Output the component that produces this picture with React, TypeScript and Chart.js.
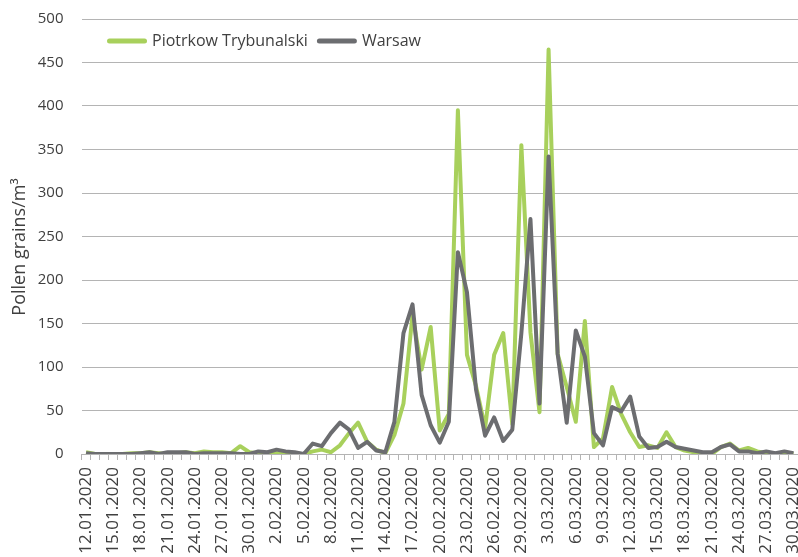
import React, { useEffect, useRef } from 'react';
import { Chart, registerables } from 'chart.js';

Chart.register(...registerables);

const dates = [
  '12.01.2020', '13.01.2020', '14.01.2020', '15.01.2020', '16.01.2020', '17.01.2020', '18.01.2020', '19.01.2020',
  '20.01.2020', '21.01.2020', '22.01.2020', '23.01.2020', '24.01.2020', '25.01.2020', '26.01.2020', '27.01.2020',
  '28.01.2020', '29.01.2020', '30.01.2020', '31.01.2020', '1.02.2020', '2.02.2020', '3.02.2020', '4.02.2020',
  '5.02.2020', '6.02.2020', '7.02.2020', '8.02.2020', '9.02.2020', '10.02.2020', '11.02.2020', '12.02.2020',
  '13.02.2020', '14.02.2020', '15.02.2020', '16.02.2020', '17.02.2020', '18.02.2020', '19.02.2020', '20.02.2020',
  '21.02.2020', '22.02.2020', '23.02.2020', '24.02.2020', '25.02.2020', '26.02.2020', '27.02.2020', '28.02.2020',
  '29.02.2020', '1.03.2020', '2.03.2020', '3.03.2020', '4.03.2020', '5.03.2020', '6.03.2020', '7.03.2020',
  '8.03.2020', '9.03.2020', '10.03.2020', '11.03.2020', '12.03.2020', '13.03.2020', '14.03.2020', '15.03.2020',
  '16.03.2020', '17.03.2020', '18.03.2020', '19.03.2020', '20.03.2020', '21.03.2020', '22.03.2020', '23.03.2020',
  '24.03.2020', '25.03.2020', '26.03.2020', '27.03.2020', '28.03.2020', '29.03.2020', '30.03.2020',
];

const piotrkow = [
  2, 0, 0, 0, 0, 1, 1, 2, 1, 0,
  1, 2, 1, 3, 2, 2, 1, 9, 2, 1,
  0, 1, 0, 0, 0, 3, 5, 2, 10, 24,
  36, 14, 5, 1, 22, 58, 160, 97, 146, 27,
  46, 395, 114, 78, 30, 114, 139, 34, 355, 140,
  48, 465, 115, 77, 37, 153, 8, 18, 77, 46,
  25, 8, 10, 7, 25, 8, 4, 2, 0, 0,
  8, 12, 4, 7, 3, 1, 0, 1, 0,
];

const warsaw = [
  1, 0, 0, 0, 0, 0, 1, 2, 0, 2,
  2, 2, 0, 1, 1, 1, 1, 0, 0, 3,
  2, 5, 3, 2, 0, 12, 9, 24, 36, 28,
  7, 14, 4, 2, 37, 139, 172, 68, 33, 13,
  37, 232, 186, 74, 21, 42, 15, 28, 139, 270,
  58, 342, 115, 36, 142, 112, 24, 10, 54, 49,
  66, 20, 7, 8, 14, 8, 6, 4, 2, 2,
  8, 11, 3, 3, 1, 3, 1, 3, 1,
];

const seriesNames = ['Piotrkow Trybunalski', 'Warsaw'];
const yTitle = 'Pollen grains/m³';
const yMin = 0;
const yMax = 500;
const yStep = 50;
const labelEvery = 3;

const FONT = '"Open Sans", "DejaVu Sans", sans-serif';
const TEXT = '#404040';
const GRID = '#b4b4b4';
const GREEN = '#a8d05c';
const GRAY = '#6c6d70';

const overlayPlugin = {
  id: 'overlay',
  afterDraw(chart: any) {
    const ctx = chart.ctx as CanvasRenderingContext2D;
    // y-axis title
    ctx.save();
    ctx.translate(20, 247);
    ctx.rotate(-Math.PI / 2);
    ctx.font = `18px ${FONT}`;
    ctx.fillStyle = TEXT;
    ctx.textAlign = 'center';
    ctx.textBaseline = 'middle';
    ctx.fillText(yTitle, 0, 0);
    ctx.restore();

    // legend
    ctx.save();
    ctx.font = `16px ${FONT}`;
    let x = 107;
    const y = 41;
    chart.data.datasets.forEach((ds: any) => {
      ctx.strokeStyle = ds.borderColor;
      ctx.lineWidth = 5;
      ctx.lineCap = 'round';
      ctx.beginPath();
      ctx.moveTo(x + 2.5, y);
      ctx.lineTo(x + 37.5, y);
      ctx.stroke();
      x += 45;
      ctx.fillStyle = TEXT;
      ctx.textAlign = 'left';
      ctx.textBaseline = 'middle';
      ctx.fillText(ds.label, x, y);
      x += ctx.measureText(ds.label).width + 9;
    });
    ctx.restore();
  },
};

export default function App() {
  const canvasRef = useRef<HTMLCanvasElement | null>(null);

  useEffect(() => {
    if (!canvasRef.current) return;
    const chart = new Chart(canvasRef.current, {
      type: 'line',
      data: {
        labels: dates,
        datasets: [
          {
            label: seriesNames[0],
            data: piotrkow,
            borderColor: GREEN,
            backgroundColor: GREEN,
            borderWidth: 4,
            pointRadius: 0,
            tension: 0,
            borderJoinStyle: 'round',
            order: 2,
          },
          {
            label: seriesNames[1],
            data: warsaw,
            borderColor: GRAY,
            backgroundColor: GRAY,
            borderWidth: 4,
            pointRadius: 0,
            tension: 0,
            borderJoinStyle: 'round',
            order: 1,
          },
        ],
      },
      options: {
        responsive: false,
        animation: false,
        layout: { padding: { top: 19, left: 0, right: 0, bottom: 0 } },
        plugins: {
          legend: { display: false },
          tooltip: { enabled: false },
          title: { display: false },
        },
        scales: {
          x: {
            type: 'category',
            offset: true,
            grid: {
              display: true,
              drawOnChartArea: false,
              drawTicks: true,
              tickLength: 6,
              offset: true,
              color: GRID,
              lineWidth: 1,
            },
            border: { display: true, color: GRID, width: 1 },
            ticks: {
              autoSkip: false,
              maxRotation: 90,
              minRotation: 90,
              padding: 7,
              color: TEXT,
              font: { family: FONT, size: 17 },
              callback: (_v: any, i: number) => (i % labelEvery === 0 ? dates[i] : ''),
            },
            afterFit: (s: any) => {
              s.height = 103;
              s.paddingLeft = 0;
              s.paddingRight = 0;
            },
          },
          y: {
            min: yMin,
            max: yMax,
            ticks: {
              stepSize: yStep,
              padding: 18,
              color: TEXT,
              font: { family: FONT, size: 15 },
            },
            grid: { color: GRID, drawTicks: false, lineWidth: 1 },
            border: { display: false },
            afterFit: (s: any) => {
              s.width = 81.5;
              s.paddingTop = 0;
              s.paddingBottom = 0;
            },
          },
        },
      },
      plugins: [overlayPlugin],
    } as any);
    return () => chart.destroy();
  }, []);

  return (
    <div style={{ position: 'absolute', left: 0, top: 0, width: 798, height: 557, overflow: 'hidden', background: '#fff' }}>
      <canvas ref={canvasRef} width={798} height={557} style={{ width: 798, height: 557, display: 'block' }} />
    </div>
  );
}
